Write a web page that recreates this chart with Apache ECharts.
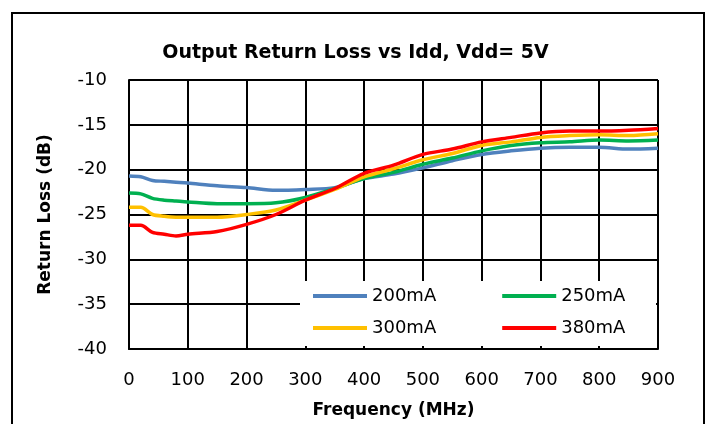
<!DOCTYPE html>
<html>
<head>
<meta charset="utf-8">
<script src="https://cdn.jsdelivr.net/npm/echarts@6/dist/echarts.min.js"></script>
<style>
html,body{margin:0;padding:0;background:#fff;}
#chart{width:711px;height:424px;}
</style>
</head>
<body>
<div id="chart"></div>
<script>
var freq = [0, 20, 40, 60, 80, 100, 150, 200, 250, 300, 350, 400, 450, 500, 550, 600, 650, 700, 750, 800, 850, 900];
var s200 = [-20.7, -20.8, -21.2, -21.3, -21.4, -21.5, -21.8, -22.0, -22.3, -22.2, -22.0, -21.0, -20.5, -19.8, -19.0, -18.3, -17.9, -17.6, -17.5, -17.5, -17.7, -17.6];
var s250 = [-22.6, -22.7, -23.2, -23.4, -23.5, -23.6, -23.8, -23.8, -23.7, -23.1, -22.1, -21.0, -20.3, -19.4, -18.7, -17.9, -17.3, -17.0, -16.9, -16.7, -16.8, -16.7];
var s300 = [-24.2, -24.2, -25.0, -25.2, -25.3, -25.3, -25.3, -25.0, -24.5, -23.4, -22.2, -20.8, -19.9, -18.9, -18.2, -17.3, -16.9, -16.4, -16.2, -16.1, -16.2, -16.0];
var s380 = [-26.2, -26.2, -27.0, -27.2, -27.4, -27.2, -26.9, -26.1, -25.0, -23.4, -22.1, -20.4, -19.5, -18.3, -17.7, -16.9, -16.4, -15.9, -15.7, -15.7, -15.6, -15.4];
var seriesNames = ['200mA', '250mA', '300mA', '380mA'];
var colors = ['#4F81BD', '#00B050', '#FFC000', '#FF0000'];
var xTicks = {min: 0, max: 900, step: 100};
var yTicks = {min: -40, max: -10, step: 5};

function pairs(vals) {
  return freq.map(function (f, i) { return [f, vals[i]]; });
}
var allVals = [s200, s250, s300, s380];
var font = 'DejaVu Sans';

var chart = echarts.init(document.getElementById('chart'), null, {renderer: 'canvas'});
chart.setOption({
  animation: false,
  backgroundColor: '#fff',
  title: {
    text: 'Output Return Loss vs Idd, Vdd= 5V',
    left: 'center',
    top: 39,
    textStyle: {fontFamily: font, fontSize: 19, fontWeight: 'bold', color: '#000'}
  },
  grid: {left: 129, right: 53, top: 80, bottom: 75},
  xAxis: {
    type: 'value',
    min: xTicks.min, max: xTicks.max, interval: xTicks.step,
    name: 'Frequency (MHz)',
    nameLocation: 'middle',
    nameGap: 53,
    nameTextStyle: {fontFamily: font, fontSize: 17, fontWeight: 'bold', color: '#000'},
    axisLine: {show: true, lineStyle: {color: '#000', width: 2}},
    axisTick: {show: false},
    axisLabel: {fontFamily: font, fontSize: 18, color: '#000', margin: 22},
    splitLine: {show: true, lineStyle: {color: '#000', width: 2}}
  },
  yAxis: {
    type: 'value',
    min: yTicks.min, max: yTicks.max, interval: yTicks.step,
    name: 'Return Loss (dB)',
    nameLocation: 'middle',
    nameGap: 75,
    nameTextStyle: {fontFamily: font, fontSize: 17, fontWeight: 'bold', color: '#000'},
    axisLine: {show: true, lineStyle: {color: '#000', width: 2}},
    axisTick: {show: false},
    axisLabel: {fontFamily: font, fontSize: 18, color: '#000', margin: 22},
    splitLine: {show: true, lineStyle: {color: '#000', width: 2}}
  },
  graphic: [
    {type: 'rect', z: 3, shape: {x: 300, y: 281, width: 356, height: 65}, style: {fill: '#fff'}},
    {type: 'rect', z: 100, shape: {x: 12, y: 13, width: 692, height: 430}, style: {fill: 'none', stroke: '#000', lineWidth: 2}}
  ],
  legend: [
    {
      z: 10, left: 313, top: 286, padding: 0, itemGap: 66, itemWidth: 54, itemHeight: 4, icon: 'rect',
      data: [seriesNames[0], seriesNames[1]],
      textStyle: {fontFamily: font, fontSize: 18, color: '#000', lineHeight: 20}
    },
    {
      z: 10, left: 313, top: 318, padding: 0, itemGap: 66, itemWidth: 54, itemHeight: 4, icon: 'rect',
      data: [seriesNames[2], seriesNames[3]],
      textStyle: {fontFamily: font, fontSize: 18, color: '#000', lineHeight: 20}
    }
  ],
  series: seriesNames.map(function (n, i) {
    return {
      name: n,
      type: 'line',
      data: pairs(allVals[i]),
      showSymbol: false,
      symbol: 'none',
      smooth: 0.3,
      z: 2,
      lineStyle: {color: colors[i], width: 3.5},
      itemStyle: {color: colors[i]}
    };
  })
});
</script>
</body>
</html>
